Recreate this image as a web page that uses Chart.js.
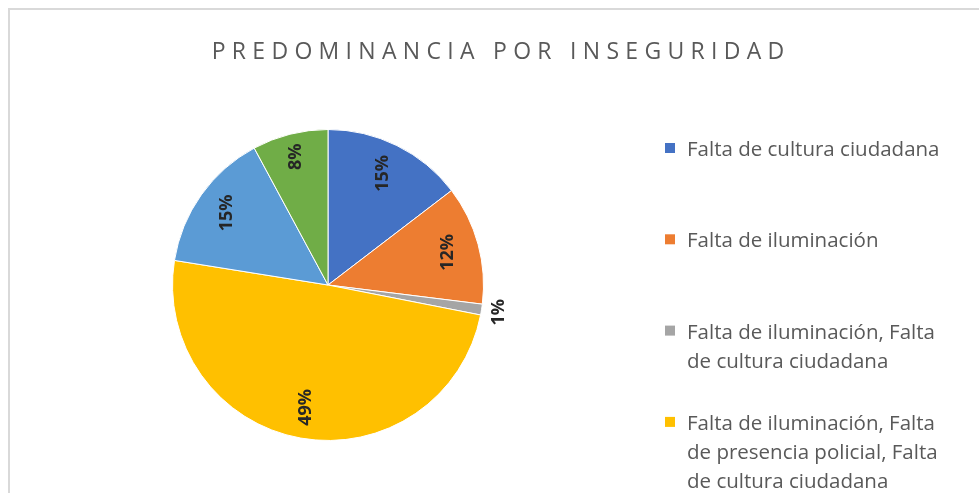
<!DOCTYPE html>
<html>
<head>
<meta charset="utf-8">
<script src="https://cdn.jsdelivr.net/npm/chart.js@4/dist/chart.umd.min.js"></script>
<style>
  html, body { margin: 0; padding: 0; background: #fff; overflow: hidden; }
  #marco { position: absolute; left: 8px; top: 8px; width: 1200px; height: 800px;
           border-left: 2px solid #d9d9d9; border-top: 2px solid #d9d9d9; }
  #wrap { position: absolute; left: 0; top: 0; width: 979px; height: 493px; }
</style>
</head>
<body>
<div id="marco"></div>
<div id="wrap"><canvas id="chart-inseguridad"></canvas></div>
<script>
const titulo = 'PREDOMINANCIA POR INSEGURIDAD';
const categorias = [
  'Falta de cultura ciudadana',
  'Falta de iluminación',
  'Falta de iluminación, Falta de cultura ciudadana',
  'Falta de iluminación, Falta de presencia policial, Falta de cultura ciudadana',
  'Falta de presencia policial',
  'Falta de presencia policial, Falta de cultura ciudadana'
];
const respuestas = [13, 11, 1, 44, 13, 7];
const colores = ['#4472C4', '#ED7D31', '#A5A5A5', '#FFC000', '#5B9BD5', '#70AD47'];

const total = respuestas.reduce((a, b) => a + b, 0);

// etiquetas de porcentaje, titulo y leyenda estilo Excel
const estiloExcel = {
  id: 'estiloExcel',
  afterDatasetsDraw(chart) {
    const ctx = chart.ctx;
    const meta = chart.getDatasetMeta(0);
    ctx.save();
    ctx.font = 'bold 18px "Open Sans"';
    ctx.fillStyle = '#262626';
    ctx.textAlign = 'center';
    ctx.textBaseline = 'middle';
    meta.data.forEach((arc, i) => {
      const pct = Math.round(respuestas[i] / total * 100);
      const p = arc.getProps(['x', 'y', 'startAngle', 'endAngle', 'outerRadius'], true);
      const mid = (p.startAngle + p.endAngle) / 2;
      const f = pct < 3 ? 1.11 : pct < 10 ? 0.85 : 0.8;
      ctx.save();
      ctx.translate(p.x + Math.cos(mid) * p.outerRadius * f, p.y + Math.sin(mid) * p.outerRadius * f);
      ctx.rotate(-Math.PI / 2);
      ctx.fillText(pct + '%', 0, 0);
      ctx.restore();
    });
    ctx.restore();
  },
  afterDraw(chart) {
    const ctx = chart.ctx;
    ctx.save();
    // titulo
    ctx.font = '23px "Open Sans"';
    ctx.fillStyle = '#595959';
    ctx.letterSpacing = '6.3px';
    ctx.textAlign = 'left';
    ctx.textBaseline = 'alphabetic';
    const w = ctx.measureText(titulo).width - 6.3;
    ctx.fillText(titulo, 498 - w / 2, 59);
    ctx.letterSpacing = '0px';

    // leyenda
    ctx.font = '20.5px "Open Sans"';
    const maxW = 268;
    categorias.forEach((cat, i) => {
      const base = 156 + i * 91.3;
      ctx.fillStyle = colores[i];
      ctx.fillRect(665, base - 13, 10, 10);
      const palabras = cat.split(' ');
      const lineas = [];
      let linea = '';
      palabras.forEach(pal => {
        const prueba = linea ? linea + ' ' + pal : pal;
        if (linea && ctx.measureText(prueba).width > maxW) {
          lineas.push(linea);
          linea = pal;
        } else {
          linea = prueba;
        }
      });
      lineas.push(linea);
      ctx.fillStyle = '#595959';
      lineas.forEach((l, j) => ctx.fillText(l, 687, base + j * 29));
    });
    ctx.restore();
  }
};

const ctxInseguridad = document.getElementById('chart-inseguridad').getContext('2d');
new Chart(ctxInseguridad, {
  type: 'pie',
  data: {
    labels: categorias,
    datasets: [{
      label: 'Predominancia',
      data: respuestas,
      backgroundColor: colores,
      borderColor: '#ffffff',
      borderWidth: 1
    }]
  },
  options: {
    responsive: true,
    maintainAspectRatio: false,
    animation: false,
    layout: {
      padding: { left: 172, right: 495, top: 129, bottom: 52 }
    },
    plugins: {
      legend: { display: false },
      title: { display: false },
      tooltip: { enabled: false }
    }
  },
  plugins: [estiloExcel]
});
</script>
</body>
</html>
